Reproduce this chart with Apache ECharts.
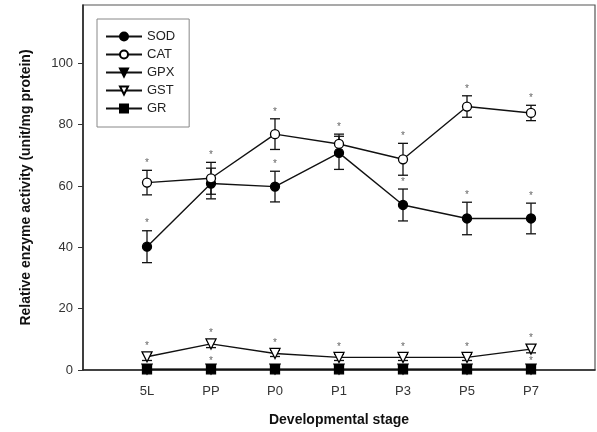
<!DOCTYPE html>
<html>
<head>
    <meta charset="utf-8">
    <title>Enzyme activity</title>
    <script src="https://cdn.jsdelivr.net/npm/echarts@6/dist/echarts.min.js"></script>
</head>
<style>
    html, body { margin: 0; padding: 0; background: #fff; }
    #chartmain { width: 597px; height: 432px; }
</style>
<body>
    <div id="chartmain"></div>
</body>
<script type="text/javascript">
    // 发育阶段
    var categories = ['5L', 'PP', 'P0', 'P1', 'P3', 'P5', 'P7'];
    var yTicks = [0, 20, 40, 60, 80, 100];

    var sod = [40.2, 60.8, 59.8, 70.8, 53.8, 49.4, 49.4];
    var sodErr = [5.2, 5, 5, 5.4, 5.2, 5.3, 5];
    var sodStar = [1, 0, 1, 0, 1, 1, 1];

    var cat = [61.1, 62.5, 76.9, 73.7, 68.7, 85.9, 83.8];
    var catErr = [4, 5.2, 5, 3.2, 5.2, 3.5, 2.5];
    var catStar = [1, 1, 1, 1, 1, 1, 1];

    var gpx = [0.3, 0.3, 0.3, 0.3, 0.3, 0.3, 0.3];
    var gpxErr = [0.3, 0.3, 0.3, 0.3, 0.3, 0.3, 0.3];
    var gpxStar = [0, 0, 0, 0, 0, 0, 0];

    var gst = [4.3, 8.5, 5.4, 4.1, 4.1, 4.1, 6.8];
    var gstErr = [1.2, 1.2, 1, 1, 1, 1, 1.2];
    var gstStar = [1, 1, 1, 1, 1, 1, 1];

    var gr = [0.2, 0.2, 0.2, 0.2, 0.2, 0.2, 0.2];
    var grErr = [0.5, 0.5, 0.5, 0.5, 0.5, 0.5, 0.5];
    var grStar = [0, 1, 0, 0, 0, 0, 1];

    function pts(vals) {
        return vals.map(function (v, i) { return [i + 1, v]; });
    }
    function errPts(vals, errs, stars) {
        return vals.map(function (v, i) { return [i + 1, v, errs[i], stars[i]]; });
    }

    function errRender(params, api) {
        var x = api.value(0), y = api.value(1), e = api.value(2), s = api.value(3);
        var top = api.coord([x, y + e]);
        var bot = api.coord([x, y - e]);
        var w = 5;
        var st = { stroke: '#111', lineWidth: 1.3 };
        var kids = [
            { type: 'line', shape: { x1: top[0], y1: top[1], x2: bot[0], y2: bot[1] }, style: st },
            { type: 'line', shape: { x1: top[0] - w, y1: top[1], x2: top[0] + w, y2: top[1] }, style: st },
            { type: 'line', shape: { x1: bot[0] - w, y1: bot[1], x2: bot[0] + w, y2: bot[1] }, style: st }
        ];
        if (s) {
            kids.push({
                type: 'text',
                style: {
                    text: '*', x: top[0], y: top[1] - 7,
                    align: 'center', verticalAlign: 'middle',
                    fill: '#666', font: '10px "Liberation Sans"'
                }
            });
        }
        return { type: 'group', children: kids };
    }

    function lineSeries(name, vals, symbol, filled, rotate) {
        return {
            name: name,
            type: 'line',
            data: pts(vals),
            symbol: symbol,
            symbolSize: symbol === 'triangle' ? 10 : 9,
            symbolRotate: rotate || 0,
            showAllSymbol: true,
            lineStyle: { color: '#111', width: 1.4 },
            itemStyle: { color: filled ? '#000' : '#fff', borderColor: '#000', borderWidth: 1.3 },
            z: 5,
            animation: false
        };
    }

    function errSeries(vals, errs, stars) {
        return {
            type: 'custom',
            renderItem: errRender,
            data: errPts(vals, errs, stars),
            encode: { x: 0, y: 1 },
            z: 3,
            silent: true,
            animation: false
        };
    }

    var myChart = echarts.init(document.getElementById('chartmain'));
    myChart.setOption({
        animation: false,
        textStyle: { fontFamily: '"Liberation Sans", Arial, sans-serif' },
        grid: {
            left: 83, right: 2, top: 5, bottom: 62,
            show: true, borderColor: '#555', borderWidth: 1.2
        },
        legend: {
            orient: 'vertical',
            left: 97, top: 19,
            data: ['SOD', 'CAT', 'GPX', 'GST', 'GR'],
            backgroundColor: '#fff',
            borderColor: '#888',
            borderWidth: 1,
            padding: [11, 14, 12, 8],
            itemWidth: 36,
            itemHeight: 10,
            itemGap: 5,
            textStyle: { fontSize: 13, color: '#222', fontFamily: '"Liberation Sans", Arial, sans-serif' }
        },
        xAxis: {
            type: 'value',
            min: 0, max: 8,
            name: 'Developmental stage',
            nameLocation: 'middle',
            nameGap: 43,
            nameTextStyle: { fontSize: 14, fontWeight: 'bold', color: '#111' },
            splitLine: { show: false },
            axisTick: { show: false },
            axisLine: { lineStyle: { color: '#222', width: 1.5 } },
            axisLabel: {
                customValues: [1, 2, 3, 4, 5, 6, 7],
                formatter: function (v) { return categories[v - 1] || ''; },
                margin: 15,
                fontSize: 13,
                color: '#333'
            }
        },
        yAxis: {
            type: 'value',
            min: 0, max: 119,
            name: 'Relative enzyme activity (unit/mg protein)',
            nameLocation: 'middle',
            nameGap: 50,
            nameTextStyle: { fontSize: 14, fontWeight: 'bold', color: '#111' },
            splitLine: { show: false },
            axisLine: { show: true, lineStyle: { color: '#222', width: 1.5 } },
            axisTick: { show: true, customValues: yTicks, length: 5, lineStyle: { color: '#333' } },
            axisLabel: { customValues: yTicks, margin: 10, fontSize: 13, color: '#333' }
        },
        series: [
            lineSeries('SOD', sod, 'circle', true),
            lineSeries('CAT', cat, 'circle', false),
            lineSeries('GPX', gpx, 'triangle', true, 180),
            lineSeries('GST', gst, 'triangle', false, 180),
            lineSeries('GR', gr, 'rect', true),
            errSeries(sod, sodErr, sodStar),
            errSeries(cat, catErr, catStar),
            errSeries(gpx, gpxErr, gpxStar),
            errSeries(gst, gstErr, gstStar),
            errSeries(gr, grErr, grStar)
        ]
    });
</script>
</html>
